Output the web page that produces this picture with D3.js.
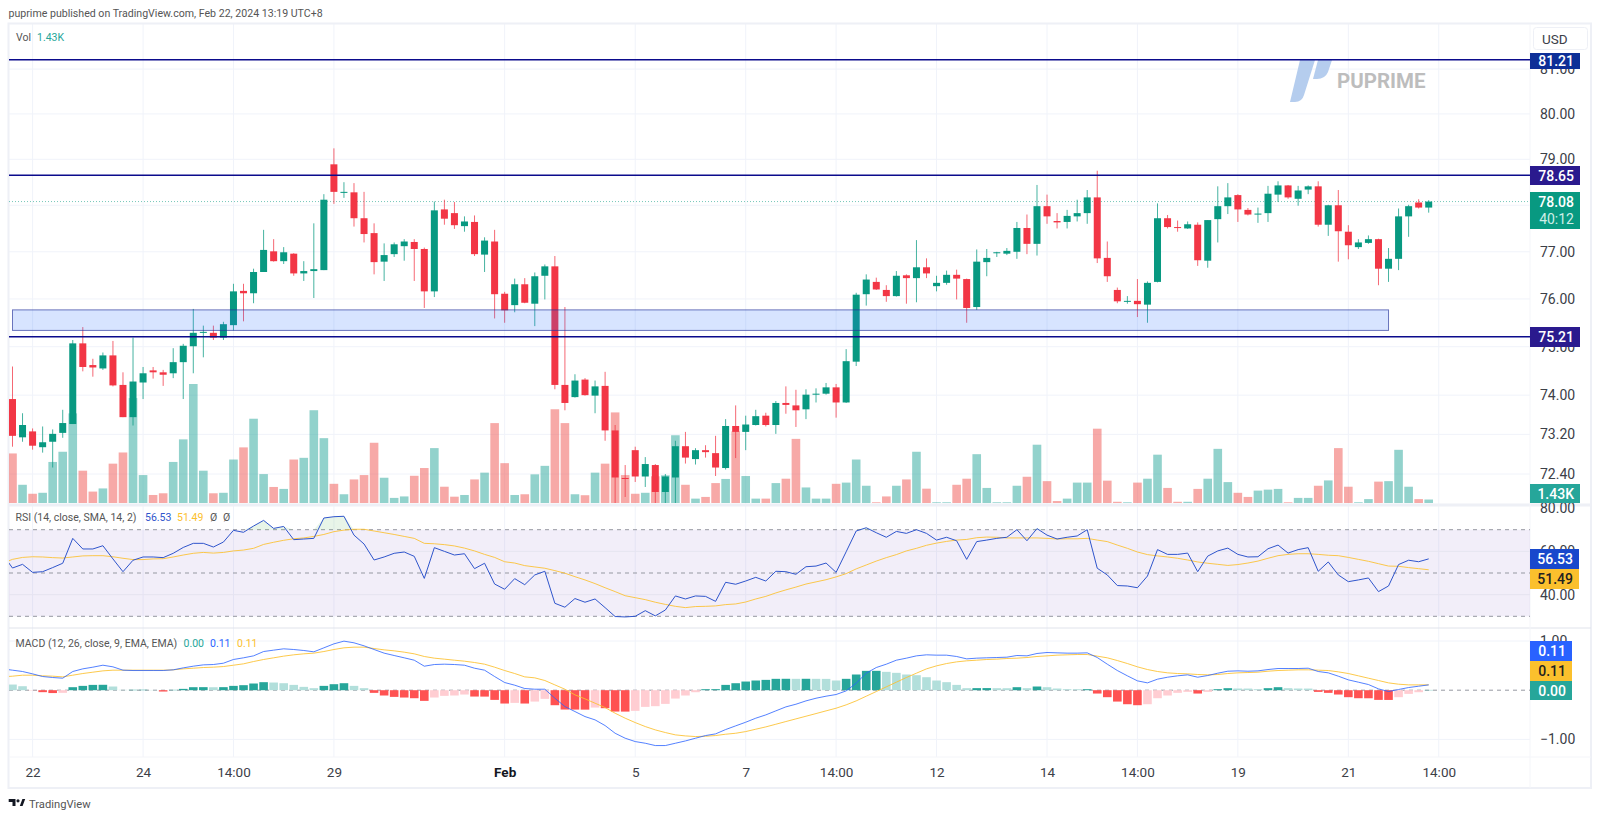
<!DOCTYPE html>
<html>
<head>
<meta charset="utf-8">
<script src="https://cdn.jsdelivr.net/npm/d3@7"></script>
<style>
  html, body { margin: 0; background: #fff; }
  text { font-family: Roboto, sans-serif; }
</style>
</head>
<body>
<div id="chart"></div>
<script>
// candles
const opens = [73.92,73.14,73.26,72.94,73.05,73.23,73.41,75.07,74.62,74.55,74.82,74.21,73.55,74.26,74.51,74.47,74.45,74.68,75.01,75.30,75.29,75.19,75.45,76.17,76.12,76.57,77.01,76.80,76.96,76.54,76.59,76.61,78.89,78.28,78.28,77.72,77.40,76.79,76.95,77.12,77.21,77.06,76.16,77.91,77.83,77.55,77.64,76.94,77.22,76.11,75.87,76.31,75.90,76.49,76.69,74.21,73.96,74.32,73.99,74.19,73.28,72.32,72.88,72.35,72.58,72.04,72.33,72.96,72.70,72.88,72.82,72.52,73.37,73.25,73.39,73.58,73.39,73.84,73.79,73.71,74.02,74.03,74.16,73.85,74.69,76.10,76.36,76.19,76.06,76.50,76.44,76.67,76.27,76.34,76.51,76.42,75.83,76.78,76.98,76.96,77.00,77.51,77.17,77.98,77.66,77.64,77.76,77.83,78.17,76.87,76.19,75.95,75.96,75.88,76.36,77.72,77.53,77.50,77.58,76.81,77.70,77.98,78.22,77.90,77.81,77.83,78.23,78.43,78.14,78.34,78.41,77.58,78.00,77.43,77.10,77.19,77.27,76.64,76.85,77.76,78.06,77.95];
const highs = [74.59,73.63,73.32,73.36,73.30,73.70,75.14,75.41,74.75,74.88,75.12,74.47,75.19,74.58,74.58,74.52,74.97,75.06,75.79,75.44,75.44,75.52,76.32,76.32,76.64,77.47,77.27,77.10,76.97,76.80,77.61,78.24,79.24,78.50,78.48,78.29,77.61,77.18,77.20,77.27,77.27,77.09,78.08,78.12,78.07,77.76,77.78,77.31,77.47,76.15,76.43,76.44,76.56,76.73,76.91,75.83,74.43,74.35,74.30,74.48,73.39,72.58,72.95,72.74,72.60,72.40,73.07,73.25,72.92,72.98,73.17,73.51,73.79,73.58,73.70,73.64,73.88,74.18,74.11,74.12,74.14,74.25,74.23,74.95,76.13,76.52,76.45,76.29,76.59,76.52,77.25,76.86,76.49,76.60,76.62,76.43,77.05,77.06,77.00,77.08,77.64,77.80,78.44,78.23,77.83,77.90,78.12,78.33,78.75,77.22,76.24,76.06,76.42,76.37,78.04,77.79,77.67,77.65,77.63,77.68,78.41,78.48,78.24,77.94,77.95,78.42,78.52,78.44,78.42,78.43,78.52,78.01,78.33,77.57,77.27,77.35,77.28,77.08,77.93,78.01,78.13,78.11];
const lows = [72.95,73.05,72.89,72.83,72.53,73.13,73.41,74.49,74.38,74.52,74.18,73.55,73.38,73.92,74.34,74.19,74.35,73.92,74.45,74.78,75.14,75.14,75.34,75.53,75.91,76.57,76.79,76.74,76.49,76.38,76.02,76.61,78.03,78.16,77.54,77.20,76.52,76.38,76.89,76.81,76.38,75.81,76.04,77.58,77.49,77.43,76.91,76.57,75.59,75.50,75.72,75.91,75.43,75.99,74.12,73.69,73.95,73.99,73.63,73.07,71.81,71.94,72.24,72.14,71.78,71.78,71.78,72.61,72.59,72.73,72.36,72.49,72.72,72.88,73.38,73.36,73.21,73.62,73.35,73.51,73.85,74.01,73.54,73.84,74.60,75.86,76.19,75.94,76.05,75.90,75.93,76.44,76.16,76.30,75.99,75.50,75.77,76.48,76.89,76.93,76.85,76.95,76.92,77.60,77.50,77.50,77.65,77.60,76.76,76.36,75.91,75.90,75.62,75.50,76.35,77.50,77.43,77.49,76.70,76.66,77.20,77.81,77.64,77.78,77.62,77.64,78.07,78.14,77.99,78.24,77.54,77.34,76.79,76.84,77.06,77.17,76.29,76.36,76.61,77.32,77.93,77.84];
const closes = [73.17,73.39,72.97,73.04,73.21,73.43,75.07,74.58,74.57,74.82,74.20,73.55,74.28,74.45,74.47,74.42,74.68,75.02,75.29,75.31,75.19,75.47,76.16,76.12,76.57,77.04,76.80,76.99,76.54,76.59,76.63,78.12,78.29,78.29,77.72,77.38,76.78,76.93,77.16,77.22,77.06,76.16,77.89,77.71,77.57,77.65,76.95,77.24,76.10,75.76,76.31,75.92,76.48,76.69,74.21,73.84,74.30,74.00,74.18,73.28,72.33,72.31,72.35,72.60,72.04,72.35,72.96,72.73,72.88,72.84,72.53,73.37,73.25,73.40,73.57,73.39,73.84,73.80,73.69,74.01,74.03,74.16,73.85,74.70,76.09,76.41,76.20,76.06,76.49,76.44,76.67,76.54,76.34,76.51,76.43,75.81,76.79,76.87,76.99,77.02,77.51,77.17,77.98,77.76,77.63,77.77,77.83,78.17,76.86,76.48,75.95,75.96,75.89,76.34,77.72,77.53,77.52,77.59,76.82,77.68,77.98,78.17,77.91,77.80,77.82,78.25,78.43,78.17,78.32,78.41,77.58,78.00,77.44,77.14,77.20,77.27,76.64,76.85,77.76,77.98,77.95,78.08];

// volume in thousands, one per candle
const volumes = [20.4,7.5,3.8,4.2,16.9,21.1,36.9,13.3,4.7,6.0,16.2,20.8,43.2,11.5,3.3,4.0,16.9,26.2,49.0,13.3,4.0,4.2,17.9,22.9,34.7,11.9,6.6,5.8,17.9,18.6,38.2,26.7,7.9,3.6,9.7,11.5,24.8,10.4,2.1,2.7,11.2,14.4,22.6,6.7,2.6,3.3,9.7,12.5,32.9,16.4,3.3,3.6,11.8,15.3,38.6,32.9,3.6,3.2,12.5,16.2,37.3,11.5,3.8,4.2,11.0,11.4,27.9,7.5,1.8,2.5,8.2,9.9,29.5,11.1,1.8,1.8,8.2,10.0,26.4,6.4,1.8,1.8,7.9,8.4,17.9,7.1,0.3,2.7,7.1,9.7,21.1,5.9,0.3,0.3,7.5,10.0,20.1,6.2,0.3,0.3,7.1,10.8,24.0,9.0,0.8,1.8,8.4,8.4,30.6,9.2,0.5,0.3,8.4,10.0,19.9,6.2,0.5,0.5,5.8,10.0,22.3,8.6,4.2,2.5,5.1,5.5,5.8,0.3,2.1,2.1,7.1,9.3,22.6,6.7,0.3,1.6,8.8,9.0,21.9,6.7,1.6,1.43];

// indicators start one bar before the first candle, that bar is clipped by the pane edge
const rsi = [58.7,52.3,54.0,50.3,50.6,52.5,54.5,66.0,61.1,61.1,62.6,56.5,50.6,55.9,57.4,57.4,57.1,59.1,61.8,63.7,63.7,62.0,64.3,69.7,68.8,71.7,74.3,70.6,71.5,65.4,65.7,66.0,75.4,76.0,76.2,67.5,63.4,56.0,57.4,59.1,59.7,57.7,47.5,61.7,60.0,58.3,58.9,52.0,54.5,44.9,42.5,47.4,44.6,49.1,50.8,36.0,34.2,38.2,36.5,38.0,34.0,29.9,29.7,30.0,32.6,30.2,32.9,39.4,38.0,39.4,39.2,36.9,45.7,44.8,46.3,48.0,46.3,50.8,50.6,49.4,52.9,53.2,54.6,50.3,59.8,69.4,70.9,68.6,66.5,69.2,68.3,70.0,68.3,65.2,66.5,64.9,56.3,64.5,65.2,66.0,66.5,70.0,64.9,70.5,67.5,65.7,66.5,67.1,70.0,52.2,49.1,44.2,44.0,43.2,48.6,60.8,58.6,58.6,59.2,50.6,57.8,60.2,61.5,58.6,57.4,57.5,61.2,62.9,59.2,60.8,61.7,50.8,55.1,49.1,46.0,46.8,47.7,41.4,44.0,53.9,55.9,55.2,56.53];
const rsiMa = [54.5,56.3,57.2,57.5,57.4,57.1,56.9,57.4,57.9,58.0,58.0,57.5,56.8,56.2,56.2,56.5,56.6,57.4,58.3,59.1,59.5,59.2,59.5,60.2,60.6,61.4,63.2,64.2,65.1,65.8,66.2,66.9,67.8,69.1,69.8,70.2,70.2,69.4,68.6,67.8,66.9,66.0,63.7,63.5,63.1,62.5,61.5,60.2,58.6,57.2,55.2,54.6,53.4,52.8,52.2,51.1,49.9,48.3,46.8,45.1,43.2,41.4,39.5,38.6,37.7,36.5,35.5,34.6,34.0,34.5,34.6,34.8,35.4,35.7,36.6,38.0,39.2,40.8,42.2,43.5,44.9,45.9,46.9,48.2,49.7,51.9,53.7,55.5,57.1,58.5,60.2,61.4,62.8,63.8,64.6,65.2,65.5,66.3,66.6,66.5,66.2,66.2,66.2,66.2,66.0,65.7,65.8,65.8,66.0,65.2,64.5,62.9,61.4,59.7,58.5,57.9,57.4,56.8,56.0,55.1,54.5,54.0,53.5,53.9,54.6,55.5,56.8,58.0,58.6,58.9,58.9,58.6,58.2,58.0,57.2,56.3,55.4,54.3,53.2,53.1,52.5,52.0,51.49];
const macdLine = [0.434,0.407,0.38,0.332,0.278,0.258,0.244,0.38,0.434,0.468,0.508,0.475,0.407,0.4,0.4,0.4,0.4,0.414,0.454,0.488,0.515,0.522,0.549,0.624,0.658,0.698,0.786,0.814,0.841,0.827,0.807,0.78,0.861,0.942,0.997,0.963,0.902,0.827,0.753,0.705,0.658,0.61,0.488,0.522,0.529,0.522,0.508,0.447,0.407,0.278,0.156,0.102,0.034,0.02,0.02,-0.163,-0.332,-0.434,-0.536,-0.603,-0.719,-0.875,-0.976,-1.044,-1.078,-1.125,-1.125,-1.078,-1.031,-0.976,-0.922,-0.888,-0.8,-0.725,-0.651,-0.569,-0.502,-0.42,-0.339,-0.285,-0.217,-0.163,-0.122,-0.088,-0.014,0.142,0.346,0.461,0.529,0.61,0.651,0.698,0.719,0.712,0.712,0.685,0.637,0.651,0.658,0.664,0.671,0.705,0.698,0.746,0.766,0.759,0.753,0.753,0.759,0.664,0.529,0.4,0.292,0.19,0.149,0.224,0.264,0.292,0.312,0.264,0.298,0.346,0.386,0.393,0.386,0.393,0.42,0.441,0.441,0.441,0.447,0.38,0.353,0.285,0.21,0.163,0.115,0.027,-0.027,0.014,0.054,0.081,0.108];
const macdSignal = [0.271,0.285,0.305,0.305,0.292,0.285,0.271,0.305,0.339,0.366,0.393,0.407,0.407,0.407,0.407,0.407,0.407,0.414,0.434,0.447,0.461,0.468,0.481,0.508,0.536,0.583,0.624,0.658,0.692,0.719,0.739,0.753,0.786,0.827,0.861,0.875,0.875,0.847,0.82,0.8,0.773,0.739,0.685,0.651,0.631,0.61,0.59,0.563,0.529,0.468,0.4,0.339,0.271,0.251,0.197,0.108,0.02,-0.095,-0.176,-0.264,-0.353,-0.468,-0.569,-0.658,-0.739,-0.807,-0.861,-0.908,-0.929,-0.942,-0.936,-0.922,-0.895,-0.875,-0.841,-0.793,-0.746,-0.692,-0.637,-0.583,-0.529,-0.475,-0.42,-0.366,-0.298,-0.217,-0.122,-0.027,0.068,0.163,0.258,0.346,0.434,0.495,0.542,0.576,0.597,0.61,0.624,0.631,0.644,0.651,0.664,0.685,0.698,0.712,0.719,0.725,0.725,0.692,0.658,0.603,0.542,0.475,0.42,0.38,0.353,0.339,0.332,0.319,0.312,0.319,0.339,0.353,0.359,0.366,0.386,0.4,0.407,0.414,0.414,0.407,0.4,0.373,0.339,0.292,0.244,0.197,0.149,0.122,0.108,0.108,0.108];
const macdHist = [0.115,0.081,-0.002,-0.04,-0.058,-0.054,0.061,0.088,0.108,0.11,0.075,0.007,0.008,0.009,0.005,-0.027,0.007,0.027,0.061,0.062,0.06,0.062,0.088,0.102,0.136,0.163,0.156,0.142,0.108,0.068,0.041,0.088,0.122,0.142,0.088,0.041,-0.054,-0.108,-0.136,-0.149,-0.163,-0.217,-0.149,-0.115,-0.108,-0.088,-0.129,-0.13,-0.197,-0.271,-0.258,-0.271,-0.231,-0.176,-0.305,-0.393,-0.394,-0.395,-0.353,-0.366,-0.434,-0.435,-0.42,-0.339,-0.325,-0.278,-0.17,-0.108,-0.041,0.02,0.021,0.108,0.142,0.176,0.197,0.21,0.231,0.232,0.231,0.232,0.231,0.23,0.197,0.231,0.319,0.393,0.394,0.373,0.353,0.319,0.305,0.264,0.197,0.163,0.108,0.041,0.042,0.043,0.041,0.04,0.061,0.041,0.075,0.061,0.034,0.02,0.019,0.02,-0.068,-0.142,-0.231,-0.285,-0.305,-0.285,-0.163,-0.108,-0.054,-0.034,-0.068,-0.034,0.02,0.041,0.034,0.033,0.02,0.041,0.061,0.041,0.034,0.033,-0.034,-0.054,-0.088,-0.142,-0.163,-0.164,-0.197,-0.198,-0.142,-0.075,-0.041,0.005];

// axes and levels
const priceGrid = [81, 80, 79, 78, 77, 76, 75, 74, 73.2, 72.4];
const priceTicks = [81, 80, 79, 77, 76, 75, 74, 73.2, 72.4];
const rsiTicks = [80, 60, 40];
const rsiBands = [70, 50, 30];
const macdTicks = [1, -1];
const timeTicks = [2, 13, 22, 32, 49, 62, 73, 82, 92, 103, 112, 122, 133, 142];
const timeLabels = ['22', '24', '14:00', '29', 'Feb', '5', '7', '14:00', '12', '14', '14:00', '19', '21', '14:00'];
const levels = [81.21, 78.65, 75.21];
const zoneTop = 75.77, zoneBottom = 75.34, zoneEndBar = 137;
const lastPrice = 78.08;

const width = 1600, height = 819;
const paneLeft = 9, paneRight = 1530, frameRight = 1591, paneTop = 24;
const priceBottom = 503, rsiTop = 509, rsiBottom = 628, macdBottom = 757, frameBottom = 788;

const upColor = '#089981', downColor = '#f23645';
const volUp = '#26a69a', volDown = '#ef5350';
const levelColor = '#0b0b8c';
const gridColor = '#f0f3fa';

const svg = d3.select('#chart').append('svg')
  .attr('width', width).attr('height', height)
  .style('display', 'block');

const x = d3.scaleLinear().domain([0, 141]).range([12.5, 1428.7]);
const yPrice = d3.scaleLog().domain([79, 72.4]).range([159.3, 474]);
const yVol = d3.scaleLinear().domain([0, 35]).range([priceBottom, priceBottom - 85]);
const yRsi = d3.scaleLinear().domain([70, 30]).range([529.7, 616.3]);
const yMacd = d3.scaleLinear().domain([1, -1]).range([641, 739.4]);

const defs = svg.append('defs');
function addClip(id, y0, y1) {
  defs.append('clipPath').attr('id', id).append('rect')
    .attr('x', paneLeft).attr('y', y0).attr('width', paneRight - paneLeft).attr('height', y1 - y0);
}
addClip('clipPrice', paneTop, priceBottom);
addClip('clipRsi', rsiTop, rsiBottom);
addClip('clipMacd', rsiBottom, macdBottom);

// grid
const grid = svg.append('g');
grid.selectAll('.vgrid').data(timeTicks).enter().append('line')
  .attr('x1', d => x(d)).attr('x2', d => x(d))
  .attr('y1', paneTop).attr('y2', macdBottom)
  .attr('stroke', gridColor);
function hGrid(ticks, scale) {
  grid.selectAll(null).data(ticks).enter().append('line')
    .attr('x1', paneLeft).attr('x2', paneRight)
    .attr('y1', d => scale(d)).attr('y2', d => scale(d))
    .attr('stroke', gridColor);
}
hGrid(priceGrid, yPrice);
hGrid(macdTicks, yMacd);

// frame and pane dividers
svg.append('rect').attr('x', 8.5).attr('y', 23.5)
  .attr('width', frameRight - 8.5).attr('height', frameBottom - 23.5)
  .attr('fill', 'none').attr('stroke', '#eef0f6').attr('stroke-width', 2);
svg.append('line').attr('x1', paneLeft).attr('x2', frameRight)
  .attr('y1', rsiBottom).attr('y2', rsiBottom).attr('stroke', '#e0e3eb');
svg.append('line').attr('x1', paneLeft).attr('x2', frameRight)
  .attr('y1', priceBottom + 2).attr('y2', priceBottom + 2).attr('stroke', '#eef0f6').attr('stroke-width', 3);
svg.append('line').attr('x1', paneLeft).attr('x2', frameRight)
  .attr('y1', macdBottom).attr('y2', macdBottom).attr('stroke', '#f4f5f9');
svg.append('line').attr('x1', paneRight).attr('x2', paneRight)
  .attr('y1', paneTop).attr('y2', frameBottom).attr('stroke', '#f4f5f9');

// watermark
const mark = svg.append('g');
mark.append('path').attr('fill', '#b5cdee')
  .attr('d', 'M1300,60 L1315,60 L1304,95 Q1302,102 1295,102 L1290,102 Z');
mark.append('path').attr('fill', '#b5cdee')
  .attr('d', 'M1318,60 L1332,60 L1328,72 Q1325,79 1317,79 L1313,79 Z');
mark.append('text').attr('x', 1337).attr('y', 88)
  .attr('font-size', 20.5).attr('font-weight', 700).attr('fill', '#bdbdbd').text('PUPRIME');

// price pane
const pricePane = svg.append('g').attr('clip-path', 'url(#clipPrice)');
const isUp = i => closes[i] >= opens[i];

pricePane.selectAll('.vol').data(volumes).enter().append('rect')
  .attr('x', (d, i) => x(i) - 4.3)
  .attr('y', d => yVol(d))
  .attr('width', 8.6)
  .attr('height', d => priceBottom - yVol(d))
  .attr('fill', (d, i) => isUp(i) ? volUp : volDown)
  .attr('fill-opacity', 0.5);

pricePane.append('line')
  .attr('x1', paneLeft).attr('x2', paneRight)
  .attr('y1', yPrice(lastPrice)).attr('y2', yPrice(lastPrice))
  .attr('stroke', upColor).attr('stroke-opacity', 0.55)
  .attr('stroke-dasharray', '1,2');

pricePane.selectAll('.wick').data(opens).enter().append('line')
  .attr('x1', (d, i) => x(i)).attr('x2', (d, i) => x(i))
  .attr('y1', (d, i) => yPrice(highs[i]))
  .attr('y2', (d, i) => yPrice(lows[i]))
  .attr('stroke', (d, i) => isUp(i) ? upColor : downColor)
  .attr('stroke-opacity', 0.75);

pricePane.selectAll('.body').data(opens).enter().append('rect')
  .attr('x', (d, i) => x(i) - 3.5)
  .attr('y', (d, i) => yPrice(Math.max(opens[i], closes[i])))
  .attr('width', 7)
  .attr('height', (d, i) => Math.max(1, Math.abs(yPrice(opens[i]) - yPrice(closes[i]))))
  .attr('fill', (d, i) => isUp(i) ? upColor : downColor);

// support zone sits on top of the candles
pricePane.append('rect')
  .attr('x', x(0)).attr('y', yPrice(zoneTop))
  .attr('width', x(zoneEndBar) - x(0))
  .attr('height', yPrice(zoneBottom) - yPrice(zoneTop))
  .attr('fill', '#2a6fff').attr('fill-opacity', 0.19)
  .attr('stroke', '#24319a').attr('stroke-opacity', 0.65);

pricePane.selectAll('.level').data(levels).enter().append('line')
  .attr('x1', paneLeft).attr('x2', paneRight)
  .attr('y1', d => yPrice(d)).attr('y2', d => yPrice(d))
  .attr('stroke', levelColor).attr('stroke-width', 1.5);

// RSI pane
const rsiPane = svg.append('g').attr('clip-path', 'url(#clipRsi)');
const barX = (d, i) => x(i - 1);

rsiPane.append('rect')
  .attr('x', paneLeft).attr('width', paneRight - paneLeft)
  .attr('y', yRsi(70)).attr('height', yRsi(30) - yRsi(70))
  .attr('fill', '#7e57c2').attr('fill-opacity', 0.1);
rsiPane.selectAll('.rsigrid').data(rsiTicks).enter().append('line')
  .attr('x1', paneLeft).attr('x2', paneRight)
  .attr('y1', d => yRsi(d)).attr('y2', d => yRsi(d))
  .attr('stroke', '#e6e4f0');
rsiPane.selectAll('.band').data(rsiBands).enter().append('line')
  .attr('x1', paneLeft).attr('x2', paneRight)
  .attr('y1', d => yRsi(d)).attr('y2', d => yRsi(d))
  .attr('stroke', '#9598a1').attr('stroke-dasharray', '4,4');

rsiPane.append('path').datum(rsi)
  .attr('fill', '#4caf50').attr('fill-opacity', 0.13)
  .attr('d', d3.area().x(barX).y0(yRsi(70)).y1(d => Math.min(yRsi(d), yRsi(70))));
rsiPane.append('path').datum(rsiMa)
  .attr('fill', 'none').attr('stroke', '#fbc02d').attr('stroke-opacity', 0.85)
  .attr('d', d3.line().x(barX).y(d => yRsi(d)));
rsiPane.append('path').datum(rsi)
  .attr('fill', 'none').attr('stroke', '#2f55cc')
  .attr('d', d3.line().x(barX).y(d => yRsi(d)));

// MACD pane
const macdPane = svg.append('g').attr('clip-path', 'url(#clipMacd)');
macdPane.append('line')
  .attr('x1', paneLeft).attr('x2', paneRight)
  .attr('y1', yMacd(0)).attr('y2', yMacd(0))
  .attr('stroke', '#9598a1').attr('stroke-dasharray', '4,4');

macdPane.selectAll('.hist').data(macdHist).enter().append('rect')
  .attr('x', (d, i) => x(i) - 4.3)
  .attr('y', d => Math.min(yMacd(d), yMacd(0)))
  .attr('width', 8.6)
  .attr('height', d => Math.abs(yMacd(d) - yMacd(0)))
  .attr('fill', (d, i) => {
    const prev = i > 0 ? macdHist[i - 1] : d;
    if (d >= 0) return d > prev ? '#26a69a' : '#b2dfdb';
    return d < prev ? '#ff5252' : '#ffcdd2';
  });

macdPane.append('path').datum(macdSignal)
  .attr('fill', 'none').attr('stroke', '#fbc02d').attr('stroke-opacity', 0.85)
  .attr('d', d3.line().x(barX).y(d => yMacd(d)));
macdPane.append('path').datum(macdLine)
  .attr('fill', 'none').attr('stroke', '#2962ff').attr('stroke-opacity', 0.8)
  .attr('d', d3.line().x(barX).y(d => yMacd(d)));

// axes
function styleAxis(g, size) {
  g.select('.domain').remove();
  g.selectAll('text').attr('font-size', size).attr('fill', '#3c4048')
    .style('font-family', 'Roboto, sans-serif');
}
svg.append('g').attr('transform', `translate(${paneRight + 2},0)`)
  .call(d3.axisRight(yPrice).tickValues(priceTicks).tickFormat(d3.format('.2f')).tickSize(0).tickPadding(8))
  .call(styleAxis, 14);
svg.append('g').attr('transform', `translate(${paneRight + 2},0)`)
  .call(d3.axisRight(yRsi).tickValues(rsiTicks).tickFormat(d3.format('.2f')).tickSize(0).tickPadding(8))
  .call(styleAxis, 14);
svg.append('g').attr('transform', `translate(${paneRight + 2},0)`)
  .call(d3.axisRight(yMacd).tickValues(macdTicks).tickFormat(d => d3.format('.2f')(d).replace('-', '\u2212')).tickSize(0).tickPadding(8))
  .call(styleAxis, 14);

const timeAxis = svg.append('g').attr('transform', `translate(0,${macdBottom})`)
  .call(d3.axisBottom(x).tickValues(timeTicks).tickFormat((d, i) => timeLabels[i]).tickSize(0).tickPadding(10))
  .call(styleAxis, 13.5);
timeAxis.selectAll('text').filter(d => d === 49).attr('font-weight', 700).attr('fill', '#131722');

// value tags on the price scale
function tag(y0, y1, w, fill, label, color) {
  svg.append('rect').attr('x', paneRight).attr('y', y0).attr('width', w).attr('height', y1 - y0).attr('fill', fill);
  svg.append('text').attr('x', paneRight + w - 6).attr('y', (y0 + y1) / 2 + 5)
    .attr('text-anchor', 'end').attr('font-size', 14).attr('font-weight', 500)
    .attr('fill', color || '#fff').text(label);
}
tag(53, 69, 50, '#0d2f97', '81.21');
tag(166, 185, 50, '#2a1a8e', '78.65');
tag(327, 347, 50, '#2a1a8e', '75.21');
tag(192, 229, 50, upColor, '');
svg.append('text').attr('x', 1574).attr('y', 207).attr('text-anchor', 'end')
  .attr('font-size', 14).attr('font-weight', 500).attr('fill', '#fff').text('78.08');
svg.append('text').attr('x', 1574).attr('y', 224).attr('text-anchor', 'end')
  .attr('font-size', 14).attr('fill', '#cfeee8').text('40:12');
tag(484, 503, 50, '#26a69a', '1.43K');
tag(549, 569, 49, '#1848cc', '56.53');
tag(569, 589, 49, '#fbc02d', '51.49', '#222');
tag(641, 661, 42, '#2962ff', '0.11');
tag(661, 681, 42, '#fbc02d', '0.11', '#222');
tag(681, 700, 42, '#26a69a', '0.00');

// USD button
svg.append('rect').attr('x', 1533.5).attr('y', 27.5).attr('width', 54).attr('height', 22).attr('rx', 3)
  .attr('fill', '#fff').attr('stroke', '#eef0f6');
svg.append('text').attr('x', 1542).attr('y', 43.5).attr('font-size', 13.5).attr('fill', '#3c4048').text('USD');

// legends and header
function legend(xPos, y, label, color) {
  svg.append('text').attr('x', xPos).attr('y', y).attr('font-size', 10.5).attr('fill', color).text(label);
}
svg.append('text').attr('x', 8.5).attr('y', 17).attr('font-size', 10.6).attr('fill', '#555').text('puprime published on TradingView.com, Feb 22, 2024 13:19 UTC+8');
legend(16, 40.5, 'Vol', '#555');
legend(37, 40.5, '1.43K', '#26a69a');
legend(15.5, 521, 'RSI (14, close, SMA, 14, 2)', '#555');
legend(145, 521, '56.53', '#2f55cc');
legend(177, 521, '51.49', '#fbc02d');
legend(210, 521, '\u00d8', '#555');
legend(223, 521, '\u00d8', '#555');
legend(15.5, 647, 'MACD (12, 26, close, 9, EMA, EMA)', '#555');
legend(183.5, 647, '0.00', '#26a69a');
legend(210, 647, '0.11', '#2962ff');
legend(237, 647, '0.11', '#fbc02d');

// footer logo
svg.append('path').attr('fill', '#131722')
  .attr('d', 'M8.7,799 H15.5 V806 H12.5 V802 H8.7 Z M16.4,800.8 A1.6,1.6 0 1 0 19.6,800.8 A1.6,1.6 0 1 0 16.4,800.8 Z M19.8,806 L22.4,799 H25.2 L22.6,806 Z');
svg.append('text').attr('x', 29).attr('y', 808).attr('font-size', 11.2).attr('fill', '#555').text('TradingView');
</script>
</body>
</html>
